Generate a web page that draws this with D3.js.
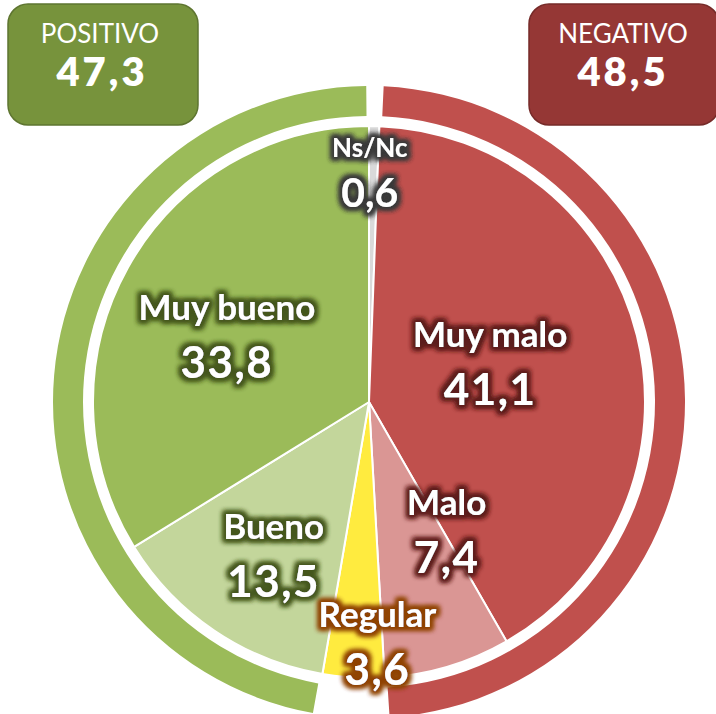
<!DOCTYPE html>
<html>
<head>
<meta charset="utf-8">
<script src="https://cdn.jsdelivr.net/npm/d3@7"></script>
<style>
  body { margin: 0; background: #fff; }
  svg { display: block; font-family: Lato, "Open Sans", sans-serif; }
</style>
</head>
<body>
<div id="chart"></div>
<script>
// Data (percent of answers), clockwise from 12 o'clock
const categories = ['Ns/Nc', 'Muy malo', 'Malo', 'Regular', 'Bueno', 'Muy bueno'];
const values = [0.6, 41.1, 7.4, 3.6, 13.5, 33.8];
const valueLabels = ['0,6', '41,1', '7,4', '3,6', '13,5', '33,8'];

// Groups drawn as the outer ring and the boxes on top
const groupNames = ['POSITIVO', 'NEGATIVO'];
const groupMembers = [['Bueno', 'Muy bueno'], ['Muy malo', 'Malo']];
const groupLabels = ['47,3', '48,5'];

const sliceColors = ['#d9d9d9', '#c0504d', '#da9694', '#ffeb3f', '#c3d69b', '#9bbb59'];
const glowColors = ['#3a3a3a', '#5c1f1d', '#5c1f1d', '#8f4306', '#45571f', '#45571f'];
const groupColors = ['#9bbb59', '#c0504d'];
const boxColors = ['#77933c', '#953735'];
const boxStroke = ['#5e7530', '#762b29'];

const config = {
  width: 716,
  height: 714,
  cx: 369,
  cy: 402,
  pieRadius: 276,
  ringInner: 286,
  ringOuter: 316
};

// label placement: turn from slice mid-angle (deg) and distance from centre
const labelTurn = [-0.9, -10.5, -18, -5.4, 0.8, 0.8];
const labelDist = [245, 133, 137, 225, 167, 164];

const svg = d3.select('#chart').append('svg')
    .attr('width', config.width)
    .attr('height', config.height);

const defs = svg.append('defs');
glowColors.forEach((c, i) => {
  const f = defs.append('filter')
      .attr('id', 'glow' + i)
      .attr('x', '-20%').attr('y', '-40%')
      .attr('width', '140%').attr('height', '180%');
  f.append('feMorphology').attr('in', 'SourceAlpha').attr('operator', 'dilate').attr('radius', 2.5).attr('result', 'thick');
  f.append('feGaussianBlur').attr('in', 'thick').attr('stdDeviation', 2.4).attr('result', 'blur');
  f.append('feFlood').attr('flood-color', c).attr('flood-opacity', 1);
  f.append('feComposite').attr('in2', 'blur').attr('operator', 'in').attr('result', 'halo');
  const m = f.append('feMerge');
  m.append('feMergeNode').attr('in', 'halo');
  m.append('feMergeNode').attr('in', 'halo');
  m.append('feMergeNode').attr('in', 'SourceGraphic');
});

const g = svg.append('g')
    .attr('transform', `translate(${config.cx},${config.cy})`);

const pie = d3.pie().sort(null).value(d => d.value);
const rows = categories.map((c, i) => ({name: c, value: values[i], label: valueLabels[i], i}));
const arcs = pie(rows);

const arc = d3.arc().innerRadius(0).outerRadius(config.pieRadius);

// outer ring, one arc per group
const ringArc = d3.arc()
    .innerRadius(config.ringInner)
    .outerRadius(config.ringOuter);
const pad = 0.5 * Math.PI / 180;
groupMembers.forEach((members, gi) => {
  const parts = arcs.filter(a => members.includes(a.data.name));
  const start = d3.min(parts, a => a.startAngle);
  const end = d3.max(parts, a => a.endAngle);
  g.append('path')
      .attr('d', ringArc({startAngle: start + pad, endAngle: end - pad}))
      .attr('fill', groupColors[gi]);
});

// pie slices
g.selectAll('path.slice')
  .data(arcs)
  .join('path')
    .attr('class', 'slice')
    .attr('d', arc)
    .attr('fill', d => sliceColors[d.data.i])
    .attr('stroke', '#fff')
    .attr('stroke-width', 2)
    .attr('stroke-linejoin', 'round');

// slice labels
const labelPos = d => {
  const a = (d.startAngle + d.endAngle) / 2 + labelTurn[d.data.i] * Math.PI / 180;
  const r = labelDist[d.data.i];
  return [r * Math.sin(a), -r * Math.cos(a)];
};

const labels = g.selectAll('g.label')
  .data(arcs)
  .join('g')
    .attr('class', 'label')
    .attr('transform', d => `translate(${labelPos(d)})`)
    .attr('filter', d => `url(#glow${d.data.i})`)
    .attr('fill', '#fff')
    .attr('font-weight', 700)
    .attr('text-anchor', 'middle');

labels.append('text')
    .attr('font-size', d => d.data.name === 'Ns/Nc' ? 26 : 35)
    .text(d => d.data.name);

labels.append('text')
    .attr('y', d => d.data.name === 'Ns/Nc' ? 50 : 58)
    .attr('font-size', d => d.data.name === 'Ns/Nc' ? 41 : 44)
    .attr('letter-spacing', d => d.data.name === 'Ns/Nc' ? 0 : 1.5)
    .text(d => d.data.label);

// group boxes
const boxX = d3.scalePoint().domain(groupNames).range([8, 529]);
const box = svg.selectAll('g.box')
  .data(groupNames)
  .join('g')
    .attr('class', 'box')
    .attr('transform', d => `translate(${boxX(d)},4)`);

box.append('rect')
    .attr('width', 190)
    .attr('height', 121)
    .attr('rx', 20)
    .attr('fill', (d, i) => boxColors[i])
    .attr('stroke', (d, i) => boxStroke[i])
    .attr('stroke-width', 1.5);

box.append('text')
    .attr('x', (d, i) => i === 0 ? 92 : 94)
    .attr('y', 39)
    .attr('text-anchor', 'middle')
    .attr('fill', '#fff')
    .attr('font-size', 26)
    .text(d => d);

box.append('text')
    .attr('x', 94)
    .attr('y', 82)
    .attr('text-anchor', 'middle')
    .attr('fill', '#fff')
    .attr('font-size', 40)
    .attr('font-weight', 800)
    .attr('letter-spacing', 3)
    .text((d, i) => groupLabels[i]);
</script>
</body>
</html>
